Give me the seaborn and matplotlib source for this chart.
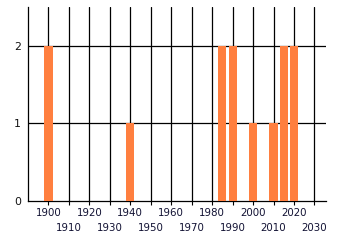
import matplotlib
matplotlib.use("Agg")
import matplotlib.pyplot as plt
import seaborn as sns
import pandas as pd

years = [1900, 1940, 1985, 1990, 2000, 2010, 2015, 2020]
counts = [2, 1, 2, 2, 1, 1, 2, 2]
even_ticks = [1900, 1920, 1940, 1960, 1980, 2000, 2020]
odd_ticks = [1910, 1930, 1950, 1970, 1990, 2010, 2030]

sns.set_theme(style="white")
plt.rcParams['font.family'] = ['DejaVu Sans']

fig = plt.figure(figsize=(3.4, 2.45), dpi=100)
ax = fig.add_axes([28/340, 1-201/245, (325.7-28)/340, (201-7)/245])

for t in even_ticks + odd_ticks:
    ax.axvline(t, color="black", lw=0.9, zorder=1)
for v in [1, 2]:
    ax.axhline(v, color="black", lw=0.9, zorder=1)

df = pd.DataFrame({"year": years, "count": counts})
sns.barplot(data=df, x="year", y="count", native_scale=True, color="#ff7f3f",
            saturation=1, ax=ax, width=0.8, linewidth=0, edgecolor="none")
for p in ax.patches:
    p.set_zorder(3)

ax.set_xlim(1890, 2035.5)
ax.set_ylim(0, 2.5)
ax.set_xlabel("")
ax.set_ylabel("")

ax.set_xticks(even_ticks)
ax.set_xticklabels([str(t) for t in even_ticks])
ax.set_xticks(odd_ticks, minor=True)
ax.set_xticklabels([str(t) for t in odd_ticks], minor=True)
ax.set_yticks([0, 1, 2])
ax.set_yticklabels(["0", "1", "2"])

ax.tick_params(axis="x", which="major", length=3, width=0.8, color="black",
               pad=2, labelsize=7.4, labelcolor="#111133", bottom=True)
ax.tick_params(axis="x", which="minor", length=3, width=0.8, color="black",
               pad=13, labelsize=7.4, labelcolor="#111133", bottom=True)
ax.tick_params(axis="y", length=0, pad=5, labelsize=7.8, labelcolor="#111111")

for s in ["top", "right"]:
    ax.spines[s].set_visible(False)
for s in ["left", "bottom"]:
    ax.spines[s].set_color("black")
    ax.spines[s].set_linewidth(0.9)

fig.savefig("out.png", dpi=100)
